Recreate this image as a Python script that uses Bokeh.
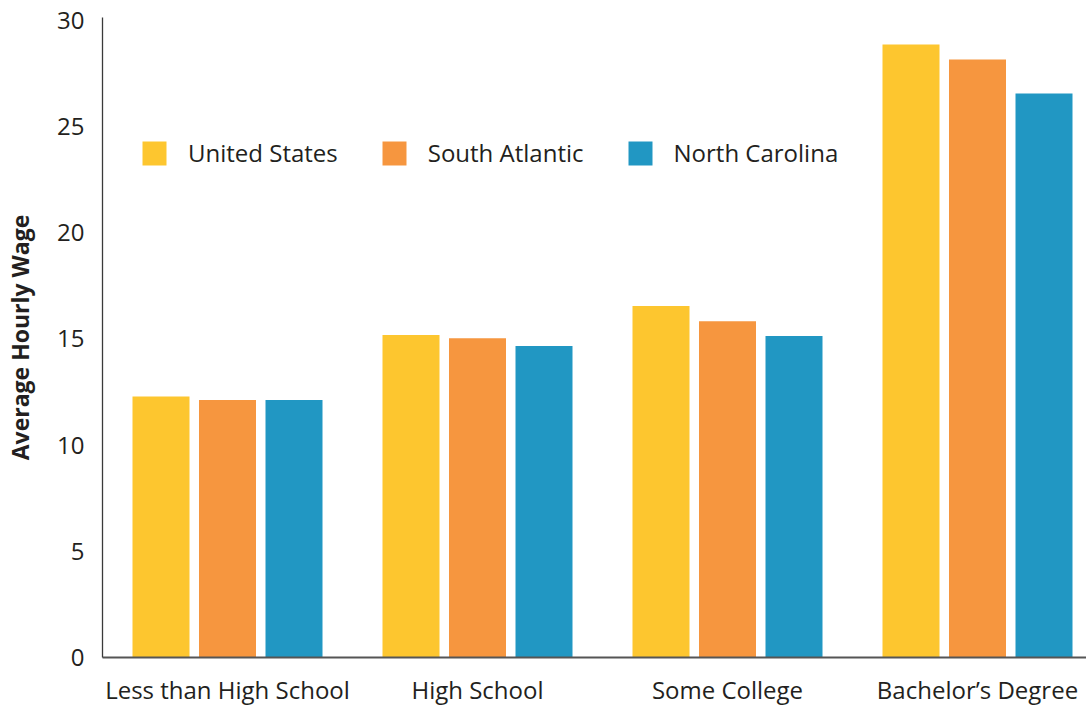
from bokeh.plotting import figure
from bokeh.models import Range1d, FixedTicker, Legend, LegendItem, ColumnDataSource
from bokeh.transform import dodge
from bokeh.embed import file_html
from bokeh.resources import INLINE

categories = ["Less than High School", "High School", "Some College", "Bachelor\u2019s Degree"]
series = ["United States", "South Atlantic", "North Carolina"]
us = [12.29, 15.19, 16.55, 28.87]
sa = [12.13, 15.04, 15.84, 28.16]
nc = [12.13, 14.67, 15.14, 26.56]
colors = ["#FDC62F", "#F6963F", "#2197C3"]
y_ticks = [0, 5, 10, 15, 20, 25, 30]

TEXT = "#231f20"
FONT = "Open Sans"

pos = list(range(len(categories)))
src = ColumnDataSource(dict(x=pos, us=us, sa=sa, nc=nc))

p = figure(width=1086, height=708,
           x_range=Range1d(-0.5, 3.436), y_range=Range1d(0, 30.14),
           output_backend="svg", toolbar_location=None,
           min_border_left=102, min_border_right=0, min_border_top=17, min_border_bottom=50)

offs = [-0.266, 0.0, 0.266]
cols = ["us", "sa", "nc"]
rends = []
for i in range(3):
    r = p.vbar(x=dodge("x", offs[i], range=p.x_range), top=cols[i], width=0.228,
               source=src, fill_color=colors[i], line_color=None)
    rends.append(r)

legend = Legend(items=[LegendItem(label=series[i], renderers=[rends[i]]) for i in range(3)],
                orientation="horizontal", location=(37, 488))
legend.border_line_alpha = 0
legend.background_fill_alpha = 0
legend.padding = 0
legend.margin = 0
legend.glyph_width = 30
legend.glyph_height = 30
legend.label_height = 30
legend.label_standoff = 19
legend.spacing = 41
legend.label_text_font = FONT
legend.label_text_font_size = "24px"
legend.label_text_color = TEXT
p.add_layout(legend)

p.xgrid.visible = False
p.ygrid.visible = False
p.outline_line_color = None

p.xaxis.ticker = FixedTicker(ticks=pos)
p.xaxis.major_label_overrides = {i: c for i, c in enumerate(categories)}
p.xaxis.major_tick_out = 0
p.xaxis.major_tick_in = 0
p.xaxis.minor_tick_out = 0
p.xaxis.minor_tick_in = 0
p.xaxis.major_label_standoff = 15
p.xaxis.major_label_text_font = FONT
p.xaxis.major_label_text_font_size = "24px"
p.xaxis.major_label_text_color = TEXT
p.xaxis.axis_line_color = "#555555"
p.xaxis.axis_line_width = 2

p.yaxis.ticker = FixedTicker(ticks=y_ticks)
p.yaxis.major_tick_out = 0
p.yaxis.major_tick_in = 0
p.yaxis.minor_tick_out = 0
p.yaxis.minor_tick_in = 0
p.yaxis.major_label_standoff = 18
p.yaxis.major_label_text_font = FONT
p.yaxis.major_label_text_font_size = "24px"
p.yaxis.major_label_text_color = TEXT
p.yaxis.axis_line_color = "#3a3a3a"
p.yaxis.axis_line_width = 1.3
p.yaxis.axis_label = "Average Hourly Wage"
p.yaxis.axis_label_text_font = FONT
p.yaxis.axis_label_text_font_size = "23px"
p.yaxis.axis_label_text_font_style = "bold"
p.yaxis.axis_label_text_color = TEXT
p.yaxis.axis_label_standoff = 18

open("out.html", "w").write(file_html(p, INLINE))
